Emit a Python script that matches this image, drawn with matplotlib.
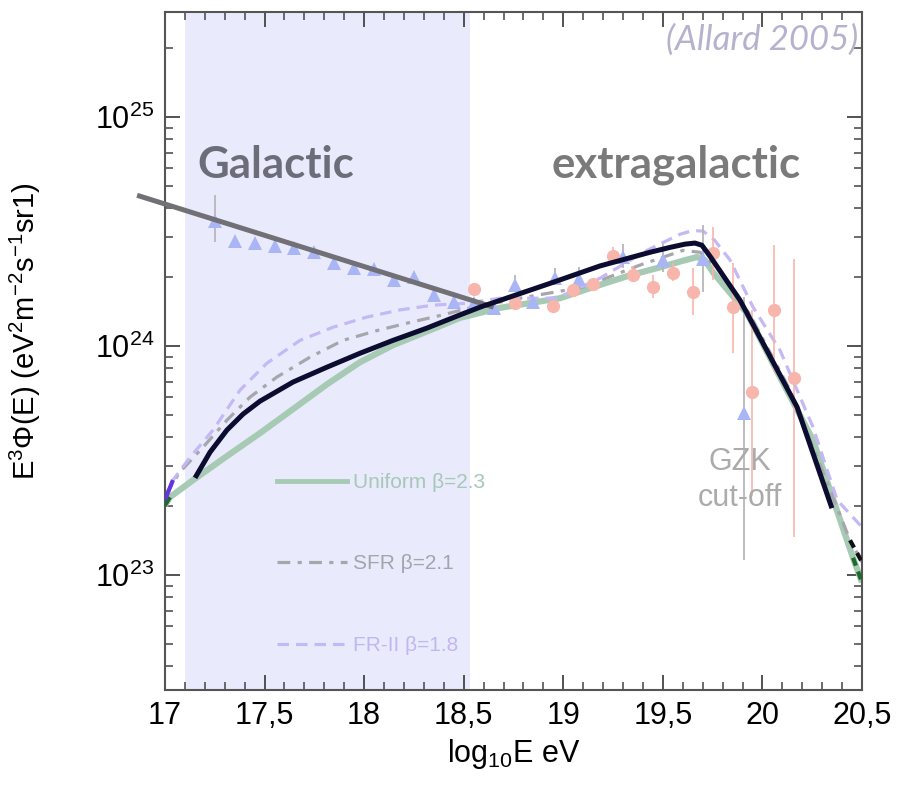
import matplotlib
matplotlib.use("Agg")
import matplotlib.pyplot as plt
from matplotlib.lines import Line2D
from matplotlib.ticker import FixedLocator, FixedFormatter, LogLocator, NullFormatter
import numpy as np

plt.rcParams['font.family'] = ['Liberation Sans', 'DejaVu Sans']
plt.rcParams['mathtext.fontset'] = 'custom'
plt.rcParams['mathtext.rm'] = 'Liberation Sans'
plt.rcParams['mathtext.it'] = 'Liberation Sans:italic'

# --- data (x = log10 E/eV, y = E^3 Phi) ---
# galactic power law guide
gal_x = [16.86, 18.65]
gal_y = [4.56e24, 1.48e24]

# model curves
unif_x = [17.0, 17.025, 17.141, 17.311, 17.477, 17.643, 17.814, 17.979, 18.145, 18.316,
          18.482, 18.682, 18.984, 19.149, 19.335, 19.486, 19.6, 19.671, 19.71, 19.752,
          19.923, 20.088, 20.254, 20.455, 20.5]
unif_y = [2.02e23, 2.19e23, 2.60e23, 3.31e23, 4.17e23, 5.31e23, 6.82e23, 8.51e23, 1.01e24, 1.16e24,
          1.33e24, 1.47e24, 1.62e24, 1.81e24, 2.04e24, 2.21e24, 2.36e24, 2.45e24, 2.38e24, 2.10e24,
          1.39e24, 7.33e23, 3.89e23, 1.19e23, 9.3e22]

sfr_x = [17.0, 17.075, 17.191, 17.311, 17.427, 17.562, 17.728, 17.894, 18.065, 18.231,
         18.396, 18.532, 18.783, 19.099, 19.385, 19.601, 19.687, 19.787, 19.938, 20.139,
         20.34, 20.44, 20.5]
sfr_y = [2.23e23, 2.82e23, 3.62e23, 4.75e23, 5.99e23, 7.33e23, 8.95e23, 1.06e24, 1.17e24, 1.27e24,
         1.37e24, 1.47e24, 1.62e24, 1.81e24, 2.26e24, 2.62e24, 2.57e24, 2.15e24, 1.37e24, 6.43e23,
         2.35e23, 1.42e23, 1.14e23]

fr2_x = [17.0, 17.04, 17.126, 17.241, 17.377, 17.512, 17.678, 17.844, 18.014, 18.18,
         18.346, 18.517, 18.682, 18.968, 19.184, 19.42, 19.586, 19.65, 19.702, 19.76,
         19.837, 19.953, 20.088, 20.254, 20.375, 20.5]
fr2_y = [2.13e23, 2.60e23, 3.27e23, 4.30e23, 6.43e23, 8.43e23, 1.06e24, 1.21e24, 1.34e24, 1.44e24,
         1.51e24, 1.54e24, 1.62e24, 1.62e24, 1.98e24, 2.62e24, 3.08e24, 3.20e24, 3.18e24, 2.90e24,
         2.38e24, 1.48e24, 9.61e23, 4.43e23, 2.13e23, 1.62e23]

# highlighted fit
fit_x = [17.151, 17.226, 17.311, 17.392, 17.477, 17.643, 17.814, 17.979, 18.145, 18.316,
         18.482, 18.582, 18.933, 19.184, 19.435, 19.536, 19.611, 19.661, 19.696, 19.737,
         19.812, 19.887, 20.003, 20.174, 20.349]
fit_y = [2.66e23, 3.44e23, 4.30e23, 5.05e23, 5.75e23, 6.97e23, 8.10e23, 9.31e23, 1.06e24, 1.20e24,
         1.37e24, 1.48e24, 1.88e24, 2.24e24, 2.57e24, 2.70e24, 2.79e24, 2.82e24, 2.76e24, 2.47e24,
         1.98e24, 1.59e24, 1.03e24, 5.42e23, 1.96e23]

# measurements (triangles)
tri_x = [17.25, 17.35, 17.45, 17.55, 17.65, 17.75, 17.85, 17.95, 18.05, 18.15, 18.25, 18.35,
         18.45, 18.55, 18.65, 18.76, 18.85, 18.96, 19.08, 19.30, 19.50, 19.70, 19.91]
tri_y = [3.52e24, 2.88e24, 2.82e24, 2.74e24, 2.68e24, 2.57e24, 2.30e24, 2.19e24, 2.17e24, 1.94e24,
         2.00e24, 1.67e24, 1.56e24, 1.54e24, 1.47e24, 1.85e24, 1.56e24, 1.98e24, 1.96e24, 2.45e24,
         2.38e24, 2.40e24, 5.1e23]
tri_lo = [2.84e24, 2.72e24, 2.70e24, 2.66e24, 2.60e24, 2.50e24, 2.24e24, 2.13e24, 2.12e24, 1.89e24,
          1.95e24, 1.63e24, 1.52e24, 1.50e24, 1.38e24, 1.80e24, 1.49e24, 1.93e24, 1.92e24, 2.19e24,
          2.10e24, 1.72e24, 1.16e23]
tri_hi = [4.56e24, 3.00e24, 2.92e24, 2.82e24, 2.76e24, 2.64e24, 2.36e24, 2.25e24, 2.25e24, 1.99e24,
          2.10e24, 1.71e24, 1.60e24, 1.58e24, 1.55e24, 2.05e24, 1.62e24, 2.20e24, 2.21e24, 2.80e24,
          2.80e24, 3.38e24, 1.64e24]

# measurements (circles)
circ_x = [18.55, 18.76, 18.95, 19.05, 19.15, 19.25, 19.35, 19.45, 19.55, 19.65, 19.75, 19.85,
          19.95, 20.06, 20.16]
circ_y = [1.77e24, 1.54e24, 1.50e24, 1.76e24, 1.87e24, 2.47e24, 2.04e24, 1.81e24, 2.08e24, 1.72e24,
          2.55e24, 1.48e24, 6.30e23, 1.44e24, 7.25e23]
circ_lo = [1.72e24, 1.48e24, 1.42e24, 1.70e24, 1.78e24, 2.38e24, 1.90e24, 1.63e24, 1.92e24, 1.37e24,
           1.94e24, 9.31e23, 2.21e23, 7.7e23, 1.47e23]
circ_hi = [1.82e24, 1.60e24, 1.56e24, 1.82e24, 1.95e24, 2.70e24, 2.25e24, 2.04e24, 2.30e24, 2.19e24,
           3.31e24, 2.30e24, 1.44e24, 2.76e24, 2.40e24]

x_ticks = [17, 17.5, 18, 18.5, 19, 19.5, 20, 20.5]
x_ticklabels = ['17', '17,5', '18', '18,5', '19', '19,5', '20', '20,5']
y_ticks = [1e23, 1e24, 1e25]
y_ticklabels = [r'$10^{23}$', r'$10^{24}$', r'$10^{25}$']
galactic_band = (17.1, 18.53)

fig = plt.figure(figsize=(9.14, 7.91), dpi=100)
ax = fig.add_axes([0.1805, 0.1277, 0.7626, 0.8571])
ax.set_yscale('log')
ax.set_xlim(17, 20.5)
ax.set_ylim(3.15e22, 2.88e25)

ax.axvspan(*galactic_band, color='#e9ebfc', zorder=0, lw=0)

# dark stubs of the original curves peeking out at the edges
ux, uy = np.array(unif_x), np.array(unif_y)
sx, sy = np.array(sfr_x), np.array(sfr_y)
fx, fy = np.array(fr2_x), np.array(fr2_y)
for xx, yy, c in [(ux, uy, '#1e6a2c'), (sx, sy, '#111111'), (fx, fy, '#6434dc')]:
    m = xx <= 17.045
    ax.plot(xx[m], yy[m], color=c, lw=3, zorder=3, solid_capstyle='butt')
    m = xx >= 20.43
    ax.plot(xx[m], yy[m], color=c, lw=3, zorder=3, ls=(0, (2, 1.5)))

ax.plot(unif_x, unif_y, color='#a7cab4', lw=4.5, zorder=2, solid_capstyle='butt',
        solid_joinstyle='round')
ax.plot(sfr_x, sfr_y, color='#a6a6ac', lw=2.3, zorder=2, dashes=(4, 2.3, 1.3, 2.3))
ax.plot(fr2_x, fr2_y, color='#c4b8f6', lw=2.3, zorder=2, dashes=(3.6, 2.2))

ty = np.array(tri_y)
ax.errorbar(tri_x, tri_y, yerr=[ty - np.array(tri_lo), np.array(tri_hi) - ty], fmt='^',
            color='#a9b5f4', ms=10, mew=0, ecolor='#b2b2b6', elinewidth=1.2, capsize=4,
            zorder=3)
cy = np.array(circ_y)
ax.errorbar(circ_x, circ_y, yerr=[cy - np.array(circ_lo), np.array(circ_hi) - cy], fmt='o',
            color='#f7b5ac', ms=9.5, mew=0, ecolor='#f7b5ac', elinewidth=1.2, capsize=4,
            zorder=3)

ax.plot(gal_x, gal_y, color='#707076', lw=3.6, zorder=4, clip_on=False, solid_capstyle='butt')
ax.plot(fit_x, fit_y, color='#0c0c30', lw=3.6, zorder=5, solid_capstyle='butt',
        solid_joinstyle='round')

# legend
handles = [Line2D([], [], color='#a7cab4', lw=3.5),
           Line2D([], [], color='#a6a6ac', lw=2.3, dashes=(4, 2.3, 1.3, 2.3)),
           Line2D([], [], color='#c4b8f6', lw=2.3, dashes=(3.6, 2.2))]
leg = ax.legend(handles, ['Uniform β=2.3', 'SFR β=2.1', 'FR-II β=1.8'],
                loc='center left', bbox_to_anchor=(0.161, 0.186), frameon=False,
                fontsize=15, handlelength=3.35, handletextpad=0.28, labelspacing=3.0,
                borderpad=0, borderaxespad=0,
                labelcolor=['#a6c8b6', '#a4a4ab', '#c2b6f2'])

ax.text(0.046, 0.774, 'Galactic', transform=ax.transAxes, ha='left', va='center',
        fontsize=31.5, fontweight='bold', family='Lato', color='#6d6d7a')
ax.text(0.555, 0.774, 'extragalactic', transform=ax.transAxes, ha='left', va='center',
        fontsize=31.5, fontweight='bold', family='Lato', color='#7a7a7a')
ax.text(0.994, 0.959, '(Allard 2005)', transform=ax.transAxes, ha='right', va='center',
        fontsize=25, style='italic', family='Lato', color='#b6b2cd')
ax.text(0.825, 0.31, 'GZK\ncut-off', transform=ax.transAxes, ha='center', va='center',
        fontsize=22, color='#ababab', linespacing=1.25)

ax.xaxis.set_major_locator(FixedLocator(x_ticks))
ax.xaxis.set_major_formatter(FixedFormatter(x_ticklabels))
ax.xaxis.set_minor_locator(FixedLocator(np.arange(17, 20.51, 0.1)))
ax.yaxis.set_major_locator(FixedLocator(y_ticks))
ax.yaxis.set_major_formatter(FixedFormatter(y_ticklabels))
ax.yaxis.set_minor_locator(LogLocator(base=10, subs=np.arange(2, 10)))
ax.yaxis.set_minor_formatter(NullFormatter())

ax.tick_params(which='both', direction='in', top=True, right=True, color='#444444',
               labelsize=22, pad=8)
ax.tick_params(which='major', length=11, width=1.3)
ax.tick_params(which='minor', length=6, width=1.1)
for s in ax.spines.values():
    s.set_color('#555555')
    s.set_linewidth(1.5)

ax.set_xlabel(r'log$_{10}$E eV', fontsize=22, labelpad=4)
ax.set_ylabel(r'E$^3$Φ(E) (eV$^2$m$^{-2}$s$^{-1}$sr1)', fontsize=21)
ax.yaxis.set_label_coords(-0.175, 0.53)

fig.savefig('out.png', dpi=100)
